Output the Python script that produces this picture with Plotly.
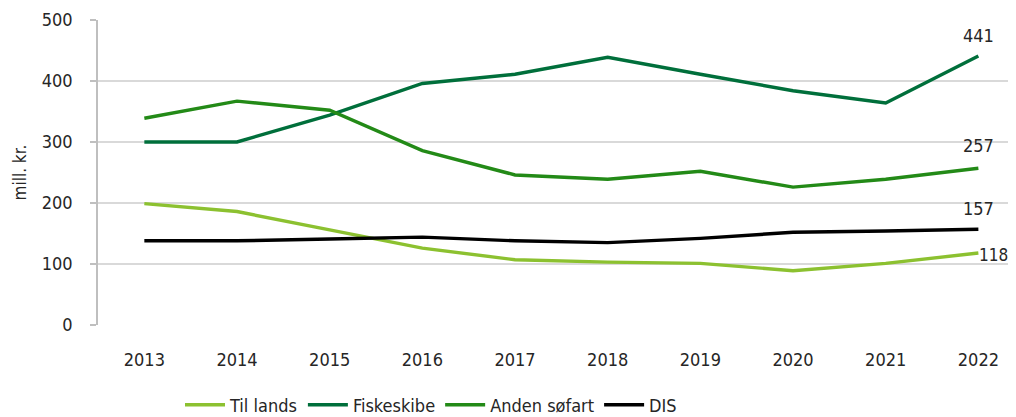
import plotly.graph_objects as go

years = [2013, 2014, 2015, 2016, 2017, 2018, 2019, 2020, 2021, 2022]
til_lands = [199, 186, 156, 126, 107, 103, 101, 89, 101, 118]
fiskeskibe = [300, 300, 344, 396, 411, 439, 411, 384, 364, 441]
anden_sofart = [339, 367, 352, 286, 246, 239, 252, 226, 239, 257]
dis = [138, 138, 141, 144, 138, 135, 142, 152, 154, 157]

series = [
    ("Til lands", til_lands, "#8CC130"),
    ("Fiskeskibe", fiskeskibe, "#006F3B"),
    ("Anden søfart", anden_sofart, "#238A17"),
    ("DIS", dis, "#000000"),
]

FONT = "DejaVu Sans Condensed, Liberation Sans Narrow, sans-serif"
TXT = "#262626"

# page body has an 8px margin; figure is sized/offset to compensate
OFF = 8
W, H = 1016 - OFF, 417 - OFF
L, T = 98 - OFF, 20 - OFF
PW, PH = 918, 305
B = H - T - PH

fig = go.Figure()
for name, vals, col in series:
    fig.add_trace(go.Scatter(x=years, y=vals, name=name, mode="lines",
                             line=dict(color=col, width=3.4)))

lab = dict(size=18, color=TXT, family=FONT)
fig.add_annotation(x=years[-1], y=fiskeskibe[-1], text=str(fiskeskibe[-1]), showarrow=False,
                   yshift=20, font=lab)
fig.add_annotation(x=years[-1], y=anden_sofart[-1], text=str(anden_sofart[-1]), showarrow=False,
                   yshift=23, font=lab)
fig.add_annotation(x=years[-1], y=dis[-1], text=str(dis[-1]), showarrow=False,
                   yshift=21, font=lab)
fig.add_annotation(x=years[-1], y=til_lands[-1], text=str(til_lands[-1]), showarrow=False,
                   xanchor="left", xshift=-1, yshift=-2, font=dict(size=17, color=TXT, family=FONT))

fig.add_annotation(xref="paper", yref="paper", x=(19 - 98) / PW, y=0.5,
                   xanchor="center", yanchor="middle",
                   text="mill. kr.", textangle=-90, showarrow=False,
                   font=dict(size=17, color=TXT, family=FONT))

fig.update_layout(
    width=W, height=H,
    margin=dict(l=L, r=0, t=T, b=B, autoexpand=False),
    paper_bgcolor="white", plot_bgcolor="white",
    font=dict(family=FONT, size=18, color=TXT),
    showlegend=True,
    legend=dict(orientation="h", x=(180 - 98) / PW, xanchor="left",
                y=(325 - 405) / PH, yanchor="middle",
                font=dict(size=18, color=TXT, family=FONT), itemwidth=40,
                traceorder="normal", tracegroupgap=0),
)
fig.update_xaxes(range=[2012.5, 2022.406], tickvals=years, ticktext=[str(y) for y in years],
                 showgrid=False, zeroline=False, showline=False,
                 ticks="outside", ticklen=18, tickcolor="rgba(0,0,0,0)",
                 tickfont=dict(size=18, color=TXT, family=FONT))
fig.update_yaxes(range=[0, 500], tickvals=[0, 100, 200, 300, 400, 500],
                 showgrid=True, gridcolor="#D9D9D9", gridwidth=1.5,
                 zeroline=False, showline=True, linecolor="#BFBFBF", linewidth=1.5,
                 ticks="outside", ticklen=6, tickcolor="#BFBFBF", tickwidth=1.5,
                 ticklabelstandoff=14,
                 tickfont=dict(size=18, color=TXT, family=FONT))

fig.write_html("out.html")
